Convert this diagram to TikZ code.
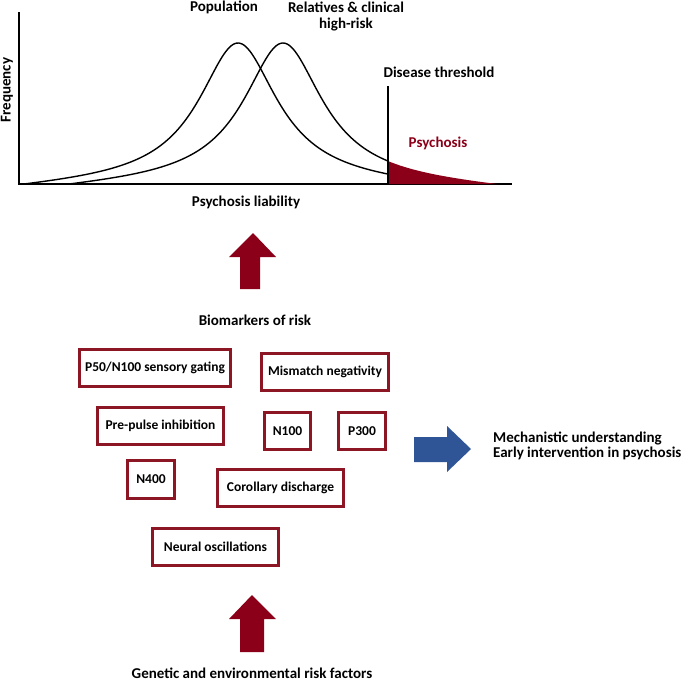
\documentclass[tikz,border=0pt]{standalone}
\usepackage{fontspec}
\setmainfont{Carlito}
\definecolor{dred}{RGB}{139,0,24}
\definecolor{bred}{RGB}{140,22,36}
\definecolor{ablue}{RGB}{47,85,151}
\begin{document}
\begin{tikzpicture}[x=1pt,y=-1pt,
  lbl/.style={font=\fontsize{15}{17}\selectfont\bfseries, inner sep=0pt},
  mbox/.style={draw=bred, line width=2.6pt, fill=white, inner sep=0pt,
    font=\fontsize{13.5}{15}\selectfont\bfseries, minimum height=37pt},
  curve/.style={line width=1.4pt},
  declare function={bell(\d)=141/(1+(\d/48)^2)*max(0,1-(\d/214)^4);}]
\useasboundingbox (0,0) rectangle (685,681);
% axes
\coordinate (ytop) at (19,12);
\coordinate (orig) at (19,184);
\coordinate (xend) at (512,184);
\draw[line width=1.4pt] (ytop) -- (orig) -- (xend);
% red tail area
\fill[dred] (388,184) -- plot[domain=388:497, samples=60, smooth]
  (\x, {184 - bell(\x-283)}) -- (497,184) -- cycle;
% curves
\draw[curve] plot[domain=25:388, samples=200, smooth]
  (\x, {184 - bell(\x-238)});
\draw[curve] plot[domain=70:388, samples=200, smooth]
  (\x, {184 - bell(\x-283)});
% threshold
\coordinate (thtop) at (388,86);
\coordinate (thbot) at (388,184);
\draw[line width=2.8pt] (thtop) -- (thbot);
% labels
\node[lbl] (pop) at (224,7) {Population};
\node[lbl] (rel1) at (346,7) {Relatives \& clinical};
\node[lbl] (rel2) at (346,25) {high-risk};
\node[lbl] (dt) at (439,72) {Disease threshold};
\node[lbl, text=dred] (psy) at (438,143) {Psychosis};
\node[lbl] (liab) at (246,202) {Psychosis liability};
\node[lbl, rotate=90] (freq) at (7,90) {Frequency};
% up arrow 1
\fill[dred] (253,233) -- (276,257) -- (260,257) -- (260,289) -- (240,289) -- (240,257) -- (229,257) -- cycle;
\node[lbl] (bio) at (255,320) {Biomarkers of risk};
% boxes
\node[mbox, minimum width=151pt] (pg) at (155,368) {P50/N100 sensory gating};
\node[mbox, minimum width=127pt] (mm) at (325,372) {Mismatch negativity};
\node[mbox, minimum width=126pt] (ppi) at (160.5,426) {Pre-pulse inhibition};
\node[mbox, minimum width=46pt] (n100) at (287.5,431) {N100};
\node[mbox, minimum width=47pt] (p300) at (362,431) {P300};
\node[mbox, minimum width=47pt, minimum height=38pt] (n400) at (151,479.5) {N400};
\node[mbox, minimum width=126pt] (cd) at (280.5,488) {Corollary discharge};
\node[mbox, minimum width=126pt] (no) at (215.5,547) {Neural oscillations};
% blue arrow
\fill[ablue] (414,437) -- (447,437) -- (447,426) -- (471,449) -- (447,472) -- (447,462) -- (414,462) -- cycle;
\node[lbl, anchor=west] (mech) at (493,438) {Mechanistic understanding};
\node[lbl, anchor=west] (early) at (493,453.5) {Early intervention in psychosis};
% up arrow 2
\fill[dred] (252,595) -- (276,619) -- (264,619) -- (264,652) -- (240,652) -- (240,619) -- (229,619) -- cycle;
\node[lbl] (gen) at (252,673) {Genetic and environmental risk factors};
\end{tikzpicture}
\end{document}
